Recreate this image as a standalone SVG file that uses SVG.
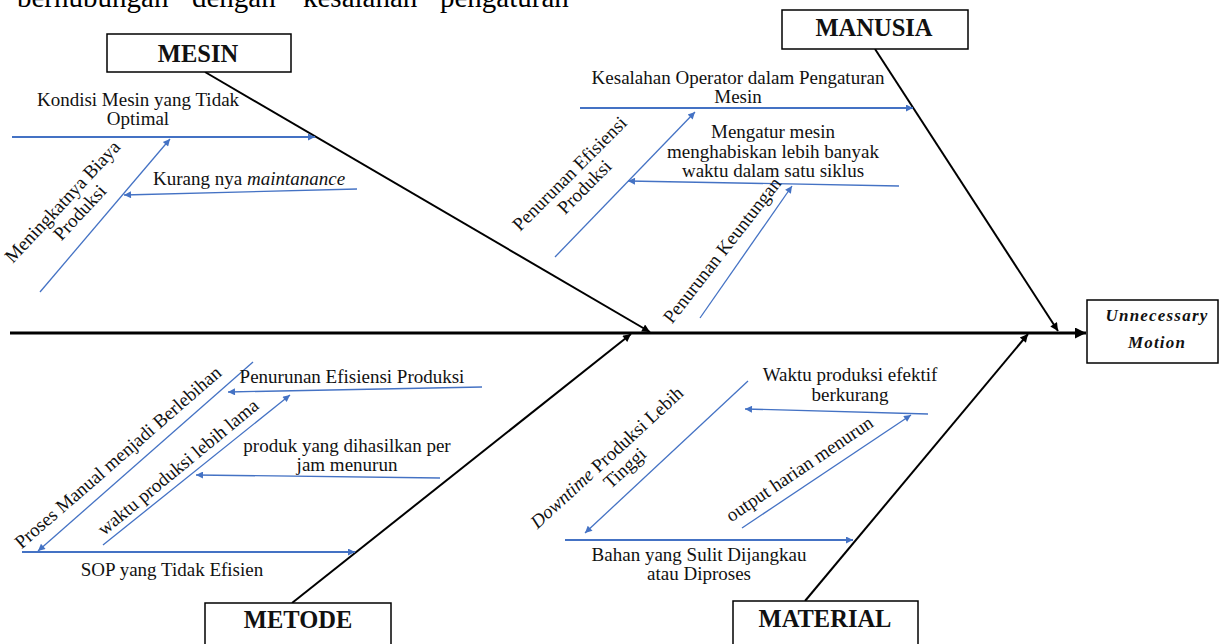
<svg xmlns="http://www.w3.org/2000/svg" width="1219" height="644" viewBox="0 0 1219 644">
<style>
.bg{fill:#ffffff}
.box{fill:#ffffff;stroke:#000000;stroke-width:1.5}
.hd{font-family:"Liberation Serif","Times New Roman",serif;font-weight:bold;font-size:24.5px;fill:#111111;text-anchor:middle}
.eff{font-family:"Liberation Serif","Times New Roman",serif;font-weight:bold;font-style:italic;font-size:17px;letter-spacing:1.2px;fill:#111111;text-anchor:middle}
.lb{font-family:"Liberation Serif","Times New Roman",serif;font-size:19px;fill:#111111;text-anchor:middle}
.lbl{font-family:"Liberation Serif","Times New Roman",serif;font-size:19px;fill:#111111}
.top{font-family:"Liberation Serif","Times New Roman",serif;font-size:29px;fill:#000000}
.spine{stroke:#000000;stroke-width:3;fill:none}
.bone{stroke:#000000;stroke-width:2;fill:none}
.sub{stroke:#4472C4;stroke-width:1.3;fill:none}
.subk{stroke:#4472C4;stroke-width:2.2;fill:none}
</style>
<defs>
<marker id="ak" viewBox="0 0 10 10" refX="10" refY="5" markerWidth="10" markerHeight="8" markerUnits="userSpaceOnUse" orient="auto"><path d="M0,0 L10,5 L0,10 z" fill="#000000"/></marker>
<marker id="as" viewBox="0 0 10 10" refX="10" refY="5" markerWidth="14" markerHeight="11" markerUnits="userSpaceOnUse" orient="auto"><path d="M0,0 L10,5 L0,10 z" fill="#000000"/></marker>
<marker id="ab" viewBox="0 0 10 10" refX="10" refY="5" markerWidth="10" markerHeight="7" markerUnits="userSpaceOnUse" orient="auto"><path d="M0,0 L10,5 L0,10 z" fill="#4472C4"/></marker>
</defs>
<rect class="bg" x="0" y="0" width="1219" height="644"/>

<g id="page-text">
<text class="top" x="17" y="7">berhubungan</text>
<text class="top" x="192" y="7">dengan</text>
<text class="top" x="303" y="7">kesalahan</text>
<text class="top" x="440" y="7">pengaturan</text>
</g>

<g id="connectors">
<line class="spine" x1="10" y1="333" x2="1086" y2="333" marker-end="url(#as)"/>
<line class="bone" x1="205" y1="72" x2="650" y2="332" marker-end="url(#ak)"/>
<line class="bone" x1="875" y1="49" x2="1058" y2="331" marker-end="url(#ak)"/>
<line class="bone" x1="292" y1="603" x2="631" y2="334" marker-end="url(#ak)"/>
<line class="bone" x1="805" y1="601" x2="1028" y2="334" marker-end="url(#ak)"/>

<line class="subk" x1="12" y1="137" x2="315" y2="137" marker-end="url(#ab)"/>
<line class="sub" x1="40" y1="292" x2="170" y2="139" marker-end="url(#ab)"/>
<line class="sub" x1="357" y1="189" x2="124" y2="195" marker-end="url(#ab)"/>

<line class="subk" x1="580" y1="108" x2="913" y2="108" marker-end="url(#ab)"/>
<line class="sub" x1="555" y1="257" x2="695" y2="112" marker-end="url(#ab)"/>
<line class="sub" x1="899" y1="186" x2="628" y2="181" marker-end="url(#ab)"/>
<line class="sub" x1="700" y1="318" x2="792" y2="186" marker-end="url(#ab)"/>

<line class="subk" x1="22" y1="552" x2="355" y2="552" marker-end="url(#ab)"/>
<line class="sub" x1="253" y1="362" x2="38" y2="551" marker-end="url(#ab)"/>
<line class="sub" x1="482" y1="387" x2="228" y2="392" marker-end="url(#ab)"/>
<line class="sub" x1="103" y1="545" x2="290" y2="395" marker-end="url(#ab)"/>
<line class="sub" x1="440" y1="478" x2="196" y2="475" marker-end="url(#ab)"/>

<line class="subk" x1="565" y1="540" x2="853" y2="540" marker-end="url(#ab)"/>
<line class="sub" x1="748" y1="381" x2="585" y2="533" marker-end="url(#ab)"/>
<line class="sub" x1="928" y1="414" x2="745" y2="409" marker-end="url(#ab)"/>
<line class="sub" x1="742" y1="528" x2="911" y2="415" marker-end="url(#ab)"/>
</g>

<g id="mesin">
<rect class="box" x="107" y="34" width="184" height="38"/>
<text class="hd" x="198" y="62">MESIN</text>
</g>
<g id="manusia">
<rect class="box" x="782" y="10" width="186" height="39"/>
<text class="hd" x="874" y="36">MANUSIA</text>
</g>
<g id="metode">
<rect class="box" x="205" y="603" width="186" height="50"/>
<text class="hd" x="298" y="628">METODE</text>
</g>
<g id="material">
<rect class="box" x="733" y="601" width="185" height="52"/>
<text class="hd" x="825" y="627">MATERIAL</text>
</g>
<g id="effect">
<rect class="box" x="1087" y="300" width="131" height="63"/>
<text class="eff" x="1157" y="321">Unnecessary</text>
<text class="eff" x="1157" y="348">Motion</text>
</g>

<g id="c-kondisi">
<text class="lb" x="138" y="106">Kondisi Mesin yang Tidak</text>
<text class="lb" x="138" y="125">Optimal</text>
</g>
<g id="c-biaya">
<text class="lb" transform="translate(67,206) rotate(-47)"><tspan x="0" y="0">Meningkatnya Biaya</tspan><tspan x="4" y="20">Produksi</tspan></text>
</g>
<g id="c-maintenance">
<text class="lbl" x="153" y="185">Kurang nya <tspan font-style="italic">maintanance</tspan></text>
</g>

<g id="c-operator">
<text class="lb" x="738" y="84">Kesalahan Operator dalam Pengaturan</text>
<text class="lb" x="738" y="103">Mesin</text>
</g>
<g id="c-mengatur">
<text class="lb" x="773" y="138">Mengatur mesin</text>
<text class="lb" x="773" y="158">menghabiskan lebih banyak</text>
<text class="lb" x="773" y="177">waktu dalam satu siklus</text>
</g>
<g id="c-efisiensi1">
<text class="lb" transform="translate(574,178) rotate(-45)"><tspan x="0" y="0">Penurunan Efisiensi</tspan><tspan x="1" y="20">Produksi</tspan></text>
</g>
<g id="c-keuntungan">
<text class="lb" font-size="18" transform="translate(727,254) rotate(-52)">Penurunan Keuntungan</text>
</g>

<g id="c-sop">
<text class="lb" x="172" y="576">SOP yang Tidak Efisien</text>
</g>
<g id="c-manual">
<text class="lb" font-size="18.5" transform="translate(122,462) rotate(-41)">Proses Manual menjadi Berlebihan</text>
</g>
<g id="c-efisiensi2">
<text class="lb" x="352" y="383">Penurunan Efisiensi Produksi</text>
</g>
<g id="c-waktu-lama">
<text class="lb" font-size="18.5" transform="translate(182,472) rotate(-39.5)">waktu produksi lebih lama</text>
</g>
<g id="c-produk">
<text class="lb" x="347" y="452">produk yang dihasilkan per</text>
<text class="lb" x="347" y="471">jam menurun</text>
</g>

<g id="c-bahan">
<text class="lb" x="699" y="561">Bahan yang Sulit Dijangkau</text>
<text class="lb" x="699" y="580">atau Diproses</text>
</g>
<g id="c-downtime">
<text class="lb" font-size="18.5" transform="translate(611,462) rotate(-42.5)"><tspan x="0" y="0"><tspan font-style="italic">Downtime</tspan> Produksi Lebih</tspan><tspan x="6" y="20">Tinggi</tspan></text>
</g>
<g id="c-waktu-efektif">
<text class="lb" x="850" y="381">Waktu produksi efektif</text>
<text class="lb" x="850" y="401">berkurang</text>
</g>
<g id="c-output">
<text class="lb" transform="translate(803,474) rotate(-34)">output harian menurun</text>
</g>
</svg>
